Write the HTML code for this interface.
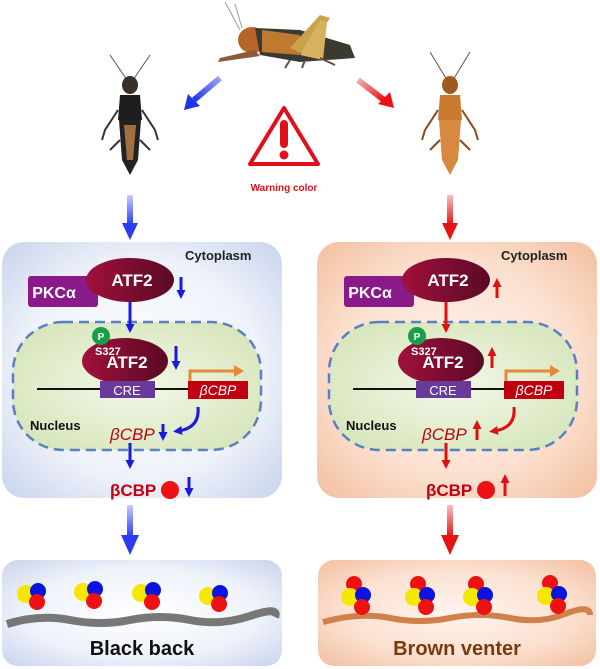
<!DOCTYPE html>
<html><head><meta charset="utf-8"><style>
html,body{margin:0;padding:0;background:#fff;width:600px;height:669px;overflow:hidden}
svg{display:block;font-family:"Liberation Sans",Arial,sans-serif}
</style></head><body>
<svg width="600" height="669" viewBox="0 0 600 669" xmlns="http://www.w3.org/2000/svg">
<defs>
<radialGradient id="gb" cx="50%" cy="50%" r="70%"><stop offset="0" stop-color="#ffffff"/><stop offset="0.6" stop-color="#eef2fa"/><stop offset="1" stop-color="#c9d4ec"/></radialGradient>
<radialGradient id="go" cx="50%" cy="50%" r="70%"><stop offset="0" stop-color="#fff5ef"/><stop offset="0.6" stop-color="#fbe0cf"/><stop offset="1" stop-color="#f3bfa0"/></radialGradient>
<radialGradient id="gn" cx="50%" cy="50%" r="60%"><stop offset="0" stop-color="#f4f8e8"/><stop offset="1" stop-color="#d6e6bc"/></radialGradient>
<linearGradient id="ge" x1="0" x2="1"><stop offset="0" stop-color="#a0103a"/><stop offset="1" stop-color="#5a0a25"/></linearGradient>
<linearGradient id="abl" x1="1" y1="0" x2="0" y2="1"><stop offset="0" stop-color="#9aa6f5"/><stop offset="1" stop-color="#2233ee"/></linearGradient>
<linearGradient id="are" x1="0" y1="0" x2="1" y2="1"><stop offset="0" stop-color="#e8b0b0"/><stop offset="1" stop-color="#ee1111"/></linearGradient>
<linearGradient id="vb" x1="0" y1="0" x2="0" y2="1"><stop offset="0" stop-color="#c8ccff"/><stop offset="1" stop-color="#2b3bef"/></linearGradient>
<linearGradient id="vr" x1="0" y1="0" x2="0" y2="1"><stop offset="0" stop-color="#f5c0c0"/><stop offset="1" stop-color="#e41414"/></linearGradient>
<marker id="mb" markerWidth="9" markerHeight="9" refX="4" refY="4.5" orient="auto" markerUnits="userSpaceOnUse" viewBox="0 0 9 9"><path d="M0,0 L9,4.5 L0,9z" fill="#1b1bdd"/></marker>
<marker id="mr" markerWidth="9" markerHeight="9" refX="4" refY="4.5" orient="auto" markerUnits="userSpaceOnUse" viewBox="0 0 9 9"><path d="M0,0 L9,4.5 L0,9z" fill="#e01010"/></marker>
</defs>

<!-- top grasshopper -->
<g>
<line x1="240" y1="30" x2="225" y2="2" stroke="#999" stroke-width="1"/>
<line x1="242" y1="28" x2="235" y2="4" stroke="#999" stroke-width="1"/>
<ellipse cx="252" cy="40" rx="14" ry="13" fill="#b5652a"/>
<path d="M255,28 L300,30 L350,45 L355,58 L300,62 L260,55z" fill="#3a3a32"/>
<path d="M262,30 L300,35 L300,55 L262,52z" fill="#c07a30"/>
<path d="M290,48 L320,15 L330,18 L305,55z" fill="#c9a24a"/>
<path d="M300,55 L320,20 L327,22 L323,60z" fill="#d9b060"/>
<path d="M255,50 L220,58 L218,62 L260,56z" fill="#8a5a3a"/>
<path d="M290,60 L285,68 M305,60 L302,68 M320,58 L335,65" stroke="#6a4a3a" stroke-width="2"/>
</g>
<!-- left insect -->
<g>
<line x1="127" y1="80" x2="110" y2="55" stroke="#555" stroke-width="1"/>
<line x1="133" y1="80" x2="150" y2="55" stroke="#555" stroke-width="1"/>
<ellipse cx="130" cy="85" rx="8" ry="9" fill="#3a302a"/>
<path d="M120,95 L140,95 L142,120 L118,120z" fill="#1e1e1e"/>
<path d="M119,120 L141,120 L138,160 L130,175 L122,160z" fill="#222"/>
<path d="M124,125 L136,125 L133,160 L127,160z" fill="#a07040"/>
<path d="M118,110 L105,130 L102,140 M142,110 L155,130 L158,140 M120,140 L110,150 M140,140 L150,150" stroke="#333" stroke-width="2" fill="none"/>
</g>
<!-- right insect -->
<g>
<line x1="447" y1="80" x2="430" y2="52" stroke="#555" stroke-width="1"/>
<line x1="453" y1="80" x2="470" y2="52" stroke="#555" stroke-width="1"/>
<ellipse cx="450" cy="85" rx="8" ry="9" fill="#a05a20"/>
<path d="M440,95 L460,95 L462,120 L438,120z" fill="#c87a30"/>
<path d="M439,120 L461,120 L458,160 L450,175 L442,160z" fill="#d58a40"/>
<path d="M438,110 L425,130 L422,140 M462,110 L475,130 L478,140 M440,140 L430,150 M460,140 L470,150" stroke="#8a4a1a" stroke-width="2" fill="none"/>
</g>

<!-- diagonal arrows -->
<path d="M220,78 L194,100" stroke="url(#abl)" stroke-width="6"/>
<path d="M184,110 L188,94 L200,106z" fill="#2233ee"/>
<path d="M358,80 L384,100" stroke="url(#are)" stroke-width="6"/>
<path d="M394,108 L378,104 L390,92z" fill="#ee1111"/>

<!-- warning -->
<path d="M284,108 L318,164 L250,164z" fill="none" stroke="#e0101a" stroke-width="4" stroke-linejoin="round"/>
<rect x="280" y="120" width="8" height="28" rx="4" fill="#e0101a"/>
<circle cx="284" cy="155" r="4.5" fill="#e0101a"/>
<text x="284" y="191" font-size="10" font-weight="bold" fill="#e0101a" text-anchor="middle">Warning color</text>

<!-- vertical arrows top -->
<rect x="127" y="195" width="6" height="30" fill="url(#vb)"/><path d="M122,223 L138,223 L130,240z" fill="#2b3bef"/>
<rect x="447" y="195" width="6" height="30" fill="url(#vr)"/><path d="M442,223 L458,223 L450,240z" fill="#e41414"/>

<!-- LEFT PANEL -->
<rect x="2" y="242" width="280" height="256" rx="22" fill="url(#gb)"/>
<text x="185" y="260" font-size="13" font-weight="bold" fill="#222">Cytoplasm</text>
<rect x="28" y="276" width="70" height="31" rx="3" fill="#8a1a8a"/>
<text x="54" y="298" font-size="16" font-weight="bold" fill="#fff" text-anchor="middle">PKCα</text>
<ellipse cx="130" cy="280" rx="44" ry="22" fill="url(#ge)"/>
<text x="132" y="286" font-size="17" font-weight="bold" fill="#fff" text-anchor="middle">ATF2</text>
<line x1="181" y1="277" x2="181" y2="294" stroke="#1b1bdd" stroke-width="3" marker-end="url(#mb)"/>
<rect x="13" y="322" width="248" height="128" rx="50" fill="url(#gn)" stroke="#5b7fc0" stroke-width="2.5" stroke-dasharray="10,6"/>
<line x1="130" y1="302" x2="130" y2="328" stroke="#1b1bdd" stroke-width="3" marker-end="url(#mb)"/>
<ellipse cx="125" cy="361" rx="43" ry="23" fill="url(#ge)"/>
<circle cx="101" cy="336" r="9" fill="#18a048"/><text x="101" y="340" font-size="10" fill="#fff" text-anchor="middle" font-weight="bold">P</text>
<text x="95" y="355" font-size="11" font-weight="bold" fill="#fff">S327</text>
<text x="127" y="368" font-size="17" font-weight="bold" fill="#fff" text-anchor="middle">ATF2</text>
<line x1="176" y1="346" x2="176" y2="365" stroke="#1b1bdd" stroke-width="3" marker-end="url(#mb)"/>
<line x1="37" y1="389" x2="190" y2="389" stroke="#111" stroke-width="2"/>
<rect x="100" y="381" width="55" height="17" fill="#6a3a9a"/>
<text x="127" y="395" font-size="13" fill="#fff" text-anchor="middle">CRE</text>
<rect x="188" y="381" width="60" height="18" fill="#c00010"/>
<text x="218" y="395" font-size="14" font-style="italic" fill="#fff" text-anchor="middle">βCBP</text>
<path d="M190,381 L190,371 L236,371" fill="none" stroke="#e8883a" stroke-width="3"/>
<path d="M234,365 L244,371 L234,377z" fill="#e8883a"/>
<text x="30" y="430" font-size="13" font-weight="bold" fill="#111">Nucleus</text>
<text x="110" y="440" font-size="17" font-style="italic" fill="#c00010">βCBP</text>
<line x1="163" y1="424" x2="163" y2="436" stroke="#1b1bdd" stroke-width="3" marker-end="url(#mb)"/>
<path d="M198,407 Q200,428 178,431" fill="none" stroke="#1b1bdd" stroke-width="3" marker-end="url(#mb)"/>
<line x1="130" y1="443" x2="130" y2="464" stroke="#1b1bdd" stroke-width="3" marker-end="url(#mb)"/>
<text x="110" y="496" font-size="17" font-weight="bold" fill="#c00010">βCBP</text>
<circle cx="170" cy="490" r="9" fill="#ee1111"/>
<line x1="189" y1="477" x2="189" y2="492" stroke="#1b1bdd" stroke-width="3" marker-end="url(#mb)"/>
<rect x="127" y="505" width="6" height="32" fill="url(#vb)"/><path d="M121,535 L139,535 L130,555z" fill="#2b3bef"/>

<!-- RIGHT PANEL -->
<rect x="317" y="242" width="280" height="256" rx="22" fill="url(#go)"/>
<text x="501" y="260" font-size="13" font-weight="bold" fill="#222">Cytoplasm</text>
<rect x="344" y="276" width="70" height="31" rx="3" fill="#8a1a8a"/>
<text x="370" y="298" font-size="16" font-weight="bold" fill="#fff" text-anchor="middle">PKCα</text>
<ellipse cx="446" cy="280" rx="44" ry="22" fill="url(#ge)"/>
<text x="448" y="286" font-size="17" font-weight="bold" fill="#fff" text-anchor="middle">ATF2</text>
<line x1="497" y1="298" x2="497" y2="283" stroke="#e01010" stroke-width="3" marker-end="url(#mr)"/>
<rect x="329" y="322" width="248" height="128" rx="50" fill="url(#gn)" stroke="#5b7fc0" stroke-width="2.5" stroke-dasharray="10,6"/>
<line x1="446" y1="302" x2="446" y2="328" stroke="#e01010" stroke-width="3" marker-end="url(#mr)"/>
<ellipse cx="441" cy="361" rx="43" ry="23" fill="url(#ge)"/>
<circle cx="417" cy="336" r="9" fill="#18a048"/><text x="417" y="340" font-size="10" fill="#fff" text-anchor="middle" font-weight="bold">P</text>
<text x="411" y="355" font-size="11" font-weight="bold" fill="#fff">S327</text>
<text x="443" y="368" font-size="17" font-weight="bold" fill="#fff" text-anchor="middle">ATF2</text>
<line x1="492" y1="368" x2="492" y2="352" stroke="#e01010" stroke-width="3" marker-end="url(#mr)"/>
<line x1="353" y1="389" x2="506" y2="389" stroke="#111" stroke-width="2"/>
<rect x="416" y="381" width="55" height="17" fill="#6a3a9a"/>
<text x="443" y="395" font-size="13" fill="#fff" text-anchor="middle">CRE</text>
<rect x="504" y="381" width="60" height="18" fill="#c00010"/>
<text x="534" y="395" font-size="14" font-style="italic" fill="#fff" text-anchor="middle">βCBP</text>
<path d="M506,381 L506,371 L552,371" fill="none" stroke="#e8883a" stroke-width="3"/>
<path d="M550,365 L560,371 L550,377z" fill="#e8883a"/>
<text x="346" y="430" font-size="13" font-weight="bold" fill="#111">Nucleus</text>
<text x="422" y="440" font-size="17" font-style="italic" fill="#c00010">βCBP</text>
<line x1="477" y1="440" x2="477" y2="425" stroke="#e01010" stroke-width="3" marker-end="url(#mr)"/>
<path d="M514,407 Q516,428 494,431" fill="none" stroke="#e01010" stroke-width="3" marker-end="url(#mr)"/>
<line x1="446" y1="443" x2="446" y2="464" stroke="#e01010" stroke-width="3" marker-end="url(#mr)"/>
<text x="426" y="496" font-size="17" font-weight="bold" fill="#c00010">βCBP</text>
<circle cx="486" cy="490" r="9" fill="#ee1111"/>
<line x1="505" y1="496" x2="505" y2="479" stroke="#e01010" stroke-width="3" marker-end="url(#mr)"/>
<rect x="447" y="505" width="6" height="32" fill="url(#vr)"/><path d="M441,535 L459,535 L450,555z" fill="#e41414"/>

<!-- BOTTOM LEFT -->
<rect x="2" y="560" width="280" height="106" rx="16" fill="url(#gb)"/>
<path d="M7,624 Q40,614 70,620 T130,620 T190,620 T250,616 T275,617" fill="none" stroke="#777" stroke-width="8"/>
<g>
<circle cx="26" cy="594" r="9" fill="#f5e800"/><circle cx="38" cy="591" r="8" fill="#0a14e0"/><circle cx="37" cy="602" r="8" fill="#ee1111"/>
<circle cx="83" cy="592" r="9" fill="#f5e800"/><circle cx="95" cy="589" r="8" fill="#0a14e0"/><circle cx="94" cy="601" r="8" fill="#ee1111"/>
<circle cx="141" cy="593" r="9" fill="#f5e800"/><circle cx="153" cy="590" r="8" fill="#0a14e0"/><circle cx="152" cy="602" r="8" fill="#ee1111"/>
<circle cx="208" cy="596" r="9" fill="#f5e800"/><circle cx="220" cy="593" r="8" fill="#0a14e0"/><circle cx="219" cy="604" r="8" fill="#ee1111"/>
</g>
<text x="142" y="655" font-size="20" font-weight="bold" fill="#111" text-anchor="middle">Black back</text>

<!-- BOTTOM RIGHT -->
<rect x="318" y="560" width="278" height="106" rx="16" fill="url(#go)"/>
<path d="M323,622 Q360,612 390,618 T450,618 T510,618 T565,614 T590,615" fill="none" stroke="#d0804a" stroke-width="6"/>
<g>
<circle cx="354" cy="584" r="8" fill="#ee1111"/><circle cx="350" cy="597" r="9" fill="#f5e800"/><circle cx="363" cy="595" r="8" fill="#0a14e0"/><circle cx="362" cy="607" r="8" fill="#ee1111"/>
<circle cx="418" cy="584" r="8" fill="#ee1111"/><circle cx="414" cy="597" r="9" fill="#f5e800"/><circle cx="427" cy="595" r="8" fill="#0a14e0"/><circle cx="426" cy="607" r="8" fill="#ee1111"/>
<circle cx="476" cy="584" r="8" fill="#ee1111"/><circle cx="472" cy="597" r="9" fill="#f5e800"/><circle cx="485" cy="595" r="8" fill="#0a14e0"/><circle cx="484" cy="607" r="8" fill="#ee1111"/>
<circle cx="550" cy="583" r="8" fill="#ee1111"/><circle cx="546" cy="596" r="9" fill="#f5e800"/><circle cx="559" cy="594" r="8" fill="#0a14e0"/><circle cx="558" cy="606" r="8" fill="#ee1111"/>
</g>
<text x="457" y="655" font-size="20" font-weight="bold" fill="#7a3a10" text-anchor="middle">Brown venter</text>
</svg>
</body></html>
